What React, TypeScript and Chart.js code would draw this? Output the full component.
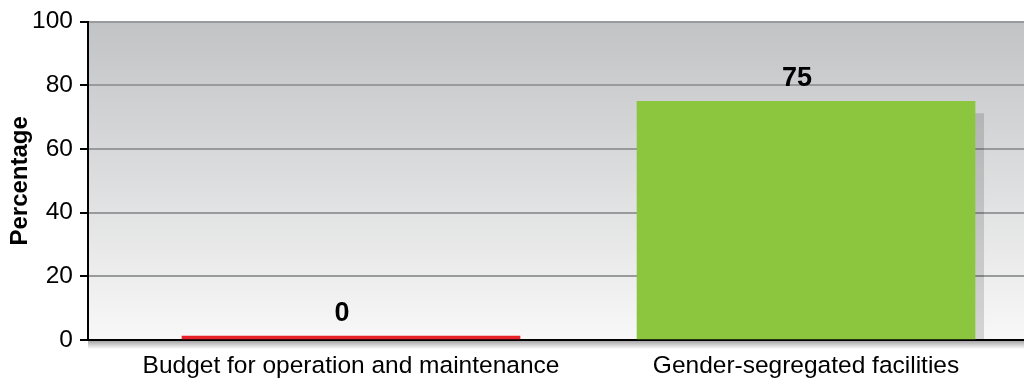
import React, { useEffect, useRef } from "react";
import { Chart, registerables } from "chart.js";

Chart.register(...registerables);

const categories = ["Budget for operation and maintenance", "Gender-segregated facilities"];
const values = [0, 75];
const barColors = ["#e8202a", "#8cc63f"];
const yTickValues = [0, 20, 40, 60, 80, 100];
const yTitle = "Percentage";

const FONT = "'Liberation Sans', Arial, sans-serif";

// Vertical grey gradient behind the plot area
const plotBackground = {
  id: "plotBackground",
  beforeDraw(chart: any) {
    const { ctx, chartArea } = chart;
    const g = ctx.createLinearGradient(0, chartArea.top, 0, chartArea.bottom);
    g.addColorStop(0, "#c2c3c5");
    g.addColorStop(1, "#f8f8f8");
    ctx.save();
    ctx.fillStyle = g;
    ctx.fillRect(chartArea.left, chartArea.top, chartArea.right - chartArea.left, chartArea.bottom - chartArea.top);
    ctx.restore();
  },
};

// Soft drop shadow to the right of each bar, plus under the baseline
const barShadow = {
  id: "barShadow",
  beforeDatasetsDraw(chart: any) {
    const { ctx } = chart;
    const meta = chart.getDatasetMeta(0);
    ctx.save();
    ctx.fillStyle = "rgba(0,0,0,0.14)";
    meta.data.forEach((bar: any) => {
      const p = bar.getProps(["x", "y", "base", "width"], true);
      const top = p.y + 12;
      const h = p.base - top;
      if (h > 0) ctx.fillRect(p.x + p.width / 2, top, 9, h);
    });
    ctx.restore();
  },
  afterDraw(chart: any) {
    const { ctx, chartArea } = chart;
    const y0 = chartArea.bottom + 1;
    const g = ctx.createLinearGradient(0, y0, 0, y0 + 8);
    g.addColorStop(0, "rgba(0,0,0,0.35)");
    g.addColorStop(1, "rgba(0,0,0,0)");
    ctx.save();
    ctx.fillStyle = g;
    ctx.fillRect(chartArea.left, y0, chartArea.right - chartArea.left, 8);
    ctx.restore();
  },
};

// Bold value labels above the bars
const valueLabels = {
  id: "valueLabels",
  afterDatasetsDraw(chart: any) {
    const { ctx } = chart;
    const meta = chart.getDatasetMeta(0);
    ctx.save();
    ctx.font = `bold 27px ${FONT}`;
    ctx.fillStyle = "#000";
    ctx.textAlign = "center";
    ctx.textBaseline = "alphabetic";
    meta.data.forEach((bar: any, i: number) => {
      const p = bar.getProps(["x", "y"], true);
      ctx.fillText(String(values[i]), p.x - 9, p.y - 15);
    });
    ctx.restore();
  },
};

export default function App() {
  const canvasRef = useRef<HTMLCanvasElement | null>(null);

  useEffect(() => {
    if (!canvasRef.current) return;
    const chart = new Chart(canvasRef.current, {
      type: "bar",
      data: {
        datasets: [
          {
            data: values.map((v, i) => ({ x: i, y: v })),
            backgroundColor: barColors,
            borderWidth: 0,
            barThickness: 338,
            minBarLength: 4,
          },
        ],
      },
      options: {
        responsive: false,
        animation: false,
        layout: { padding: { top: 18, right: 0, left: 0, bottom: 0 } },
        plugins: {
          legend: { display: false },
          tooltip: { enabled: false },
        },
        scales: {
          x: {
            type: "linear",
            offset: false,
            min: -0.578,
            max: 1.479,
            afterBuildTicks: (scale: any) => {
              scale.ticks = categories.map((_, i) => ({ value: i }));
            },
            afterFit: (scale: any) => {
              scale.height = 41;
            },
            ticks: {
              autoSkip: false,
              maxRotation: 0,
              padding: 4,
              color: "#000",
              font: { family: FONT, size: 24.5 },
              callback: (v: any) => categories[v] ?? "",
            },
            grid: { display: false, offset: false },
            border: { display: true, color: "#000", width: 2 },
          },
          y: {
            type: "linear",
            min: 0,
            max: 100,
            afterBuildTicks: (scale: any) => {
              scale.ticks = yTickValues.map((v) => ({ value: v }));
            },
            afterFit: (scale: any) => {
              scale.width = 88;
            },
            ticks: {
              padding: 7,
              color: "#000",
              font: { family: FONT, size: 24.5 },
            },
            grid: {
              color: "#999a9c",
              lineWidth: 2,
              tickColor: "#000",
              tickLength: 8,
              drawTicks: true,
            },
            border: { display: true, color: "#000", width: 2 },
            title: {
              display: true,
              text: yTitle,
              color: "#000",
              font: { family: FONT, size: 24, weight: "bold" },
              padding: { top: 6, bottom: 0 },
            },
          },
        },
      },
      plugins: [plotBackground, barShadow, valueLabels],
    } as any);
    return () => chart.destroy();
  }, []);

  return (
    <div style={{ position: "fixed", left: 0, top: 0, width: 1024, height: 381, background: "#fff" }}>
      <canvas ref={canvasRef} width={1024} height={381} />
    </div>
  );
}
